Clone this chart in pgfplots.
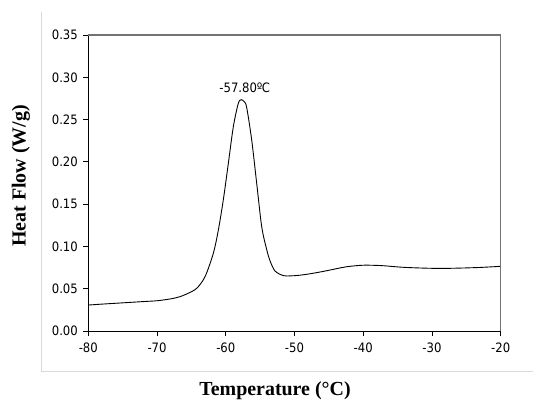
\documentclass[border=0pt]{standalone}
\usepackage{pgfplots}
\pgfplotsset{compat=1.18}
\usepackage{fontspec}
\setmainfont{Liberation Serif}
\newfontfamily\tickfont{DejaVu Sans Condensed}
\begin{document}
\begin{tikzpicture}[x=1bp,y=1bp]
\useasboundingbox (0,0) rectangle (533,401);
\draw[color=black!15, line width=1bp] (41,389) -- (41,30) -- (534,30);
\begin{axis}[
  at={(88.3bp,70bp)}, anchor=south west,
  scale only axis, width=412.4bp, height=296bp,
  xmin=-80, xmax=-20, ymin=0, ymax=0.35,
  axis x line*=bottom, axis y line*=left,
  axis line style={black, line width=1bp, -},
  xtick={-80,-70,...,-20},
  ytick={0,0.05,...,0.35},
  tick align=outside, major tick length=5bp,
  tick style={black, line width=0.9bp},
  x tick label style={font=\tickfont\fontsize{13}{14}\selectfont, yshift=-3bp},
  y tick label style={font=\tickfont\fontsize{13}{14}\selectfont, xshift=-2bp},
  /pgf/number format/assume math mode=true,
  yticklabel style={/pgf/number format/fixed, /pgf/number format/fixed zerofill, /pgf/number format/precision=2},
  clip=false,
]
\addplot[black, line width=0.9bp, smooth, tension=0.5] coordinates {
(-80,0.0307) (-78,0.0318) (-76,0.0328) (-74,0.0338) (-72,0.0348) (-70,0.0358)
(-68,0.0380) (-66.66,0.0406) (-65.5,0.0445) (-64.23,0.0505) (-63.02,0.0642)
(-61.81,0.0919) (-61.09,0.119) (-60.36,0.155) (-59.63,0.198) (-58.90,0.2416)
(-58.18,0.269) (-57.75,0.2735) (-57.3,0.271) (-56.95,0.264) (-56.23,0.226)
(-55.50,0.1746) (-54.77,0.1233) (-54.04,0.0960) (-53.56,0.083) (-52.84,0.0710)
(-51.63,0.0655) (-50.5,0.0652) (-49.2,0.066) (-47.5,0.0680) (-45.8,0.0705)
(-44,0.0735) (-42.4,0.0760) (-40,0.0778) (-37.3,0.0773) (-33.9,0.0752)
(-28.8,0.0740) (-23.5,0.0750) (-20,0.0765)
};
\node[font=\tickfont\fontsize{13}{14}\selectfont] at (axis cs:-57.24,0.287) {-57.80º\kern-0.5ptC};
\draw[color=black!55, line width=1.3bp] (rel axis cs:0,1) -- (rel axis cs:1,1) -- (rel axis cs:1,0);
\end{axis}
\node[font=\bfseries\fontsize{20}{22}\selectfont, rotate=90] at (21,225) {Heat Flow (W/g)};
\node[font=\bfseries\fontsize{20}{22}\selectfont] at (275,10) {Temperature (°C)};
\end{tikzpicture}
\end{document}
